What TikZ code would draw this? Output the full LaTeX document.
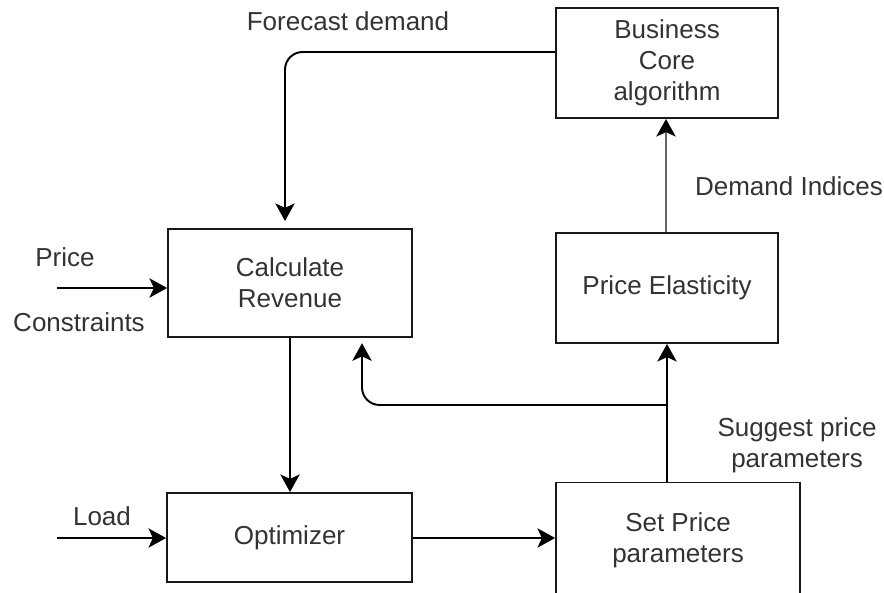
\documentclass[tikz,border=0pt]{standalone}
\usepackage{fontspec}
\setmainfont{Liberation Sans}
\usetikzlibrary{arrows.meta}

\begin{document}
\begin{tikzpicture}[x=0.02cm,y=-0.02cm,
    every node/.style={font=\fontsize{14.8}{17.6}\selectfont, text=black!80},
    box/.style={draw=black!90, line width=1.1pt, rectangle, inner sep=0pt, align=center},
    arr/.style={line width=1.1pt, -{Stealth[length=10pt,width=11pt,inset=2.5pt,color=black]}}]
    \useasboundingbox (0,0) rectangle (884,592);

    % blocks
    \node[box, minimum width=4.44cm, minimum height=2.2cm] (biz) at (667,63) {Business\\Core\\algorithm};
    \node[box, minimum width=4.44cm, minimum height=2.2cm] (elast) at (667,288) {Price Elasticity};
    \node[box, minimum width=4.88cm, minimum height=2.16cm] (calc) at (290,283) {Calculate\\Revenue};
    \node[box, minimum width=4.9cm, minimum height=1.78cm] (opt) at (289.5,537.5) {Optimizer};
    \node[box, minimum width=4.88cm, minimum height=2.3cm] (setp) at (678,540) {Set Price\\parameters};

    % labels
    \node (fcast) at (348,21) {Forecast demand};
    \node (price) at (65,257) {Price};
    \node (cons) at (79,322) {Constraints};
    \node (load) at (102,516) {Load};
    \node (dind) at (789,186) {Demand Indices};
    \node[align=center] (sugg) at (797,445) {Suggest price\\parameters};

    \coordinate (pin) at (57,288);
    \coordinate (lin) at (57,538);
    \coordinate (split) at (667,405);

    % connectors
    \draw[arr, rounded corners=10pt, shorten >=4pt] (biz.west |- 0,52) -| (calc.north -| 285,0);
    \draw[arr] (pin) -- (calc.west |- pin);
    \draw[arr] (calc.south) -- (calc.south |- opt.north);
    \draw[arr] (lin) -- (opt.west |- lin);
    \draw[arr] (opt.east |- 0,538) -- (setp.west |- 0,538);
    \draw[arr] (setp.north -| split) -- (elast.south -| split);
    \draw[arr, rounded corners=10pt, shorten >=3pt] (split) -| (calc.south -| 362,0);
    \draw[arr, draw=black!60] (elast.north -| 666,0) -- (biz.south -| 666,0);
\end{tikzpicture}
\end{document}
